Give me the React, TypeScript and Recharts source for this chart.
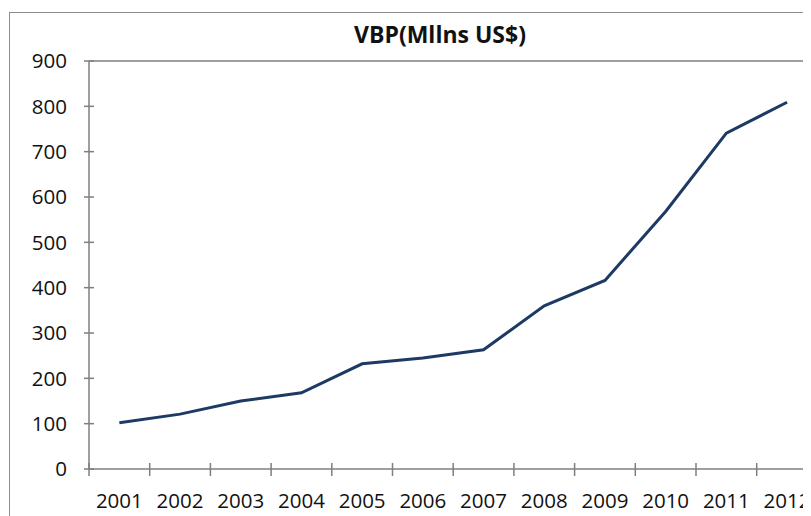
import React from "react";
import { LineChart, Line, XAxis, YAxis, ReferenceLine } from "recharts";

const years = [2001, 2002, 2003, 2004, 2005, 2006, 2007, 2008, 2009, 2010, 2011, 2012];
const vbp = [102, 121, 150, 168, 232, 245, 263, 360, 416, 568, 741, 809];
const yTicks = [0, 100, 200, 300, 400, 500, 600, 700, 800, 900];
const boundaryTicks = [2000.5, 2001.5, 2002.5, 2003.5, 2004.5, 2005.5, 2006.5, 2007.5, 2008.5, 2009.5, 2010.5, 2011.5, 2012.5];

const data = years.map((y, i) => ({ year: y, vbp: vbp[i] }));

const FONT = "'Open Sans', sans-serif";
const AXIS = "#7f7f7f";

const YTick = (props: any) => {
  const { x, y, payload } = props;
  const ax = x + 22;
  return (
    <g>
      <line x1={ax - 5} x2={ax + 5} y1={y} y2={y} stroke={AXIS} strokeWidth={1.5} />
      <text x={x} y={y} dy="0.355em" textAnchor="end" fontFamily={FONT} fontSize={20.5} fill="#111">
        {payload.value}
      </text>
    </g>
  );
};

const BoundaryTick = (props: any) => {
  const { x, y } = props;
  return <line x1={x} x2={x} y1={y - 6} y2={y + 7} stroke={AXIS} strokeWidth={1.5} />;
};

const LabelTick = (props: any) => {
  const { x, y, payload } = props;
  return (
    <text x={x} y={y} dy="0.71em" textAnchor="middle" fontFamily={FONT} fontSize={20.5} fill="#111">
      {payload.value}
    </text>
  );
};

export default function App() {
  return (
    <div style={{ position: "relative", width: 803, height: 508, overflow: "hidden" }}>
      <div
        style={{
          position: "absolute",
          left: 1,
          top: 4,
          width: 880,
          height: 580,
          border: "1px solid #8c8c8c",
          background: "#fff",
        }}
      >
        <div
          style={{
            position: "absolute",
            left: 0,
            width: 860,
            top: 8,
            textAlign: "center",
            fontFamily: FONT,
            fontWeight: 700,
            fontSize: 23,
            lineHeight: "26px",
            color: "#111",
          }}
        >
          VBP(Mllns US$)
        </div>
        <LineChart
          width={830}
          height={540}
          data={data}
          margin={{ top: 48, right: 22.6, left: 0, bottom: 44 }}
        >
          <ReferenceLine xAxisId="b" y={900} stroke={AXIS} strokeWidth={1.5} />
          <XAxis
            xAxisId="b"
            dataKey="year"
            type="number"
            domain={[2000.5, 2012.5]}
            ticks={boundaryTicks}
            height={1}
            tickSize={0}
            tickMargin={0}
            tickLine={false}
            tick={<BoundaryTick />}
            axisLine={{ stroke: AXIS, strokeWidth: 1.5 }}
            interval={0}
          />
          <XAxis
            xAxisId="l"
            dataKey="year"
            type="number"
            domain={[2000.5, 2012.5]}
            ticks={years}
            height={39}
            tickSize={0}
            tickMargin={23}
            tickLine={false}
            axisLine={false}
            tick={<LabelTick />}
            interval={0}
          />
          <YAxis
            width={79}
            domain={[0, 900]}
            ticks={yTicks}
            tickSize={5}
            tickMargin={17}
            tickLine={false}
            tick={<YTick />}
            axisLine={{ stroke: AXIS, strokeWidth: 1.5 }}
            interval={0}
          />
          <Line
            xAxisId="b"
            dataKey="vbp"
            type="linear"
            stroke="#1c3a63"
            strokeWidth={3}
            dot={false}
            isAnimationActive={false}
          />
        </LineChart>
      </div>
    </div>
  );
}
